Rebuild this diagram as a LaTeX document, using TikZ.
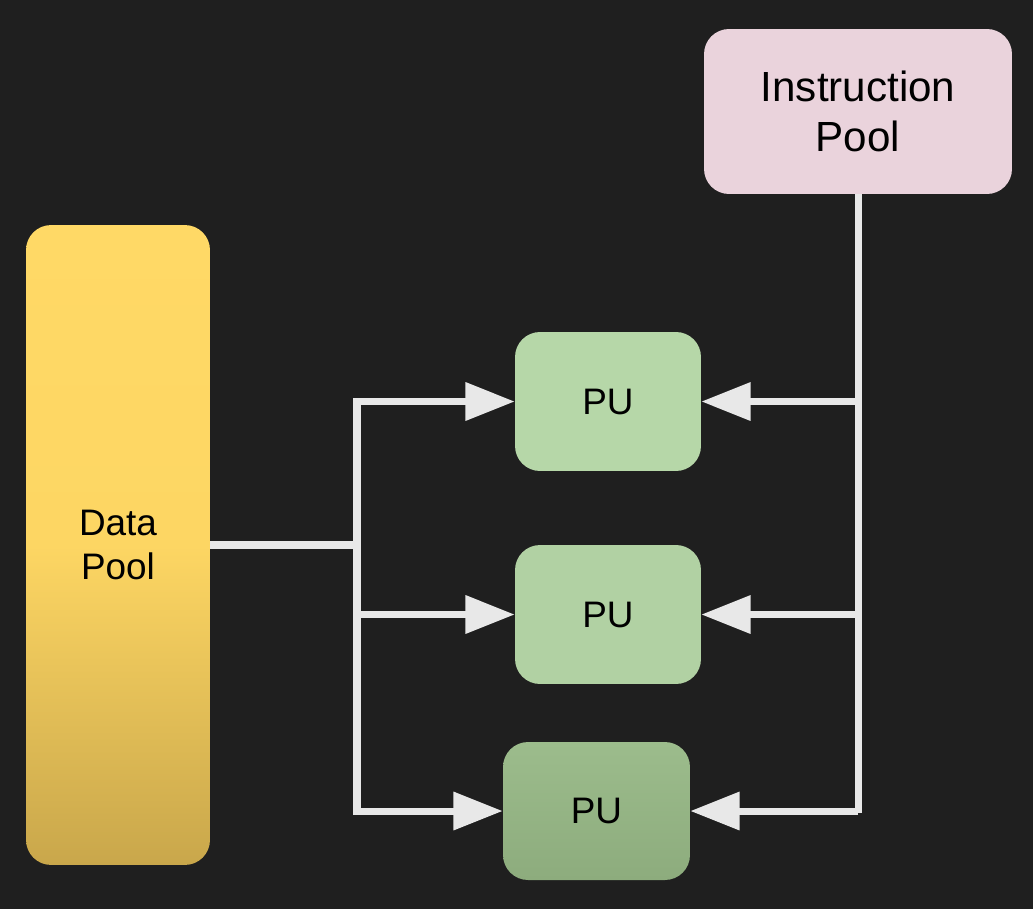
\documentclass[tikz,border=0pt]{standalone}
\usepackage{fontspec}
\setmainfont{Liberation Sans}
\usetikzlibrary{arrows.meta}
\definecolor{bg}{HTML}{1F1F1F}
\definecolor{wire}{HTML}{E8E8E8}
\definecolor{dptop}{HTML}{FFD966}
\definecolor{dpmid}{HTML}{FDD663}
\definecolor{dpbot}{HTML}{C9A74B}
\definecolor{ipfill}{HTML}{EAD3DC}
\definecolor{puA}{HTML}{B6D7A8}
\definecolor{puB}{HTML}{B1D1A3}
\definecolor{puC}{HTML}{9CBC8C}
\definecolor{puD}{HTML}{8DAC7D}
\begin{document}
\begin{tikzpicture}[x=0.02cm,y=-0.02cm,
  box/.style={rounded corners=0.5cm, align=center, text=black, inner sep=0pt},
  wireline/.style={draw=wire, line width=4pt},
  arr/.style={wireline, -{Triangle[length=28pt,width=21pt]}}]
\fill[bg] (0,0) rectangle (1033,909);
\useasboundingbox (0,0) rectangle (1033,909);
\node[box, minimum width=3.68cm, minimum height=12.8cm, top color=dptop, bottom color=dpbot, middle color=dpmid,
  font=\fontsize{21pt}{25pt}\selectfont] (dp) at (118,545) {Data\\Pool};
\node[box, fill=ipfill, minimum width=6.16cm, minimum height=3.3cm,
  font=\fontsize{24pt}{28.5pt}\selectfont] (ip) at (858,111.5) {Instruction\\Pool};
\node[box, fill=puA, minimum width=3.72cm, minimum height=2.78cm,
  font=\fontsize{21pt}{25pt}\selectfont] (pu1) at (608,401.5) {PU};
\node[box, fill=puB, minimum width=3.72cm, minimum height=2.78cm,
  font=\fontsize{21pt}{25pt}\selectfont] (pu2) at (608,614.5) {PU};
\node[box, top color=puC, bottom color=puD, minimum width=3.74cm, minimum height=2.76cm,
  font=\fontsize{21pt}{25pt}\selectfont] (pu3) at (596.5,811) {PU};
% left bus
\coordinate (j) at (357,545);
\coordinate (l1) at (j |- pu1.west);
\coordinate (l2) at (j |- pu2.west);
\coordinate (l3) at (j |- pu3.west);
\draw[wireline] (dp.east) -- (j);
\draw[wireline, line cap=rect] (l1) -- (l3);
\draw[arr] (l1) -- (pu1.west);
\draw[arr] (l2) -- (pu2.west);
\draw[arr] (l3) -- (pu3.west);
% right bus
\coordinate (r1) at (ip.south |- pu1.east);
\coordinate (r2) at (ip.south |- pu2.east);
\coordinate (r3) at (ip.south |- pu3.east);
\draw[wireline] (ip.south) -- (r3) -- ++(0,2);
\draw[arr] (r1) -- (pu1.east);
\draw[arr] (r2) -- (pu2.east);
\draw[arr] (r3) -- (pu3.east);
\end{tikzpicture}
\end{document}
